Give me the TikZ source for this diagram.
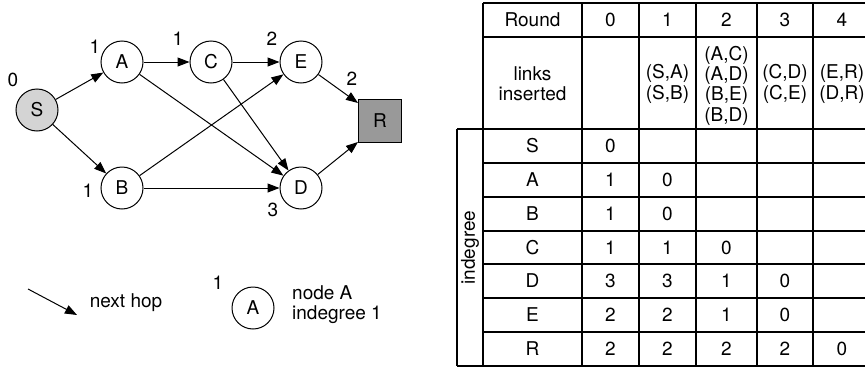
\documentclass[tikz,border=0pt]{standalone}
\usepackage{fontspec}
\setmainfont{TeX Gyre Heros}
\usetikzlibrary{arrows.meta}
\begin{document}
\begin{tikzpicture}[x=1pt,y=-1pt,
  font=\fontsize{19}{20.3}\selectfont,
  vtx/.style={circle,draw,line width=1pt,minimum size=42pt,inner sep=0pt},
  lbl/.style={inner sep=0pt},
  hop/.style={-{Triangle[length=12pt,width=9pt]},line width=1pt},
  gridline/.style={line width=1.1pt},
  cell/.style={inner sep=0pt,align=center}]
\useasboundingbox (0,0) rectangle (865,367);
% graph
\node[vtx,fill=black!17] (S) at (37,110) {S};
\node[vtx] (A) at (122,62) {A};
\node[vtx] (C) at (211,62) {C};
\node[vtx] (E) at (301,62) {E};
\node[vtx] (B) at (122,188) {B};
\node[vtx] (D) at (301,188) {D};
\node[draw,line width=1pt,fill=black!40,minimum size=43pt,inner sep=0pt] (R) at (380,121) {R};
\draw[hop] (S) -- (A);
\draw[hop] (S) -- (B);
\draw[hop] (A) -- (C);
\draw[hop] (A) -- (D);
\draw[hop] (C) -- (E);
\draw[hop] (C) -- (D);
\draw[hop] (B) -- (E);
\draw[hop] (B) -- (D);
\draw[hop] (E) -- ([yshift=-4pt]R.north west);
\draw[hop] (D) -- ([yshift=1pt]R.south west);
\node[lbl] (lS) at (13,80) {0};
\node[lbl] (lA) at (95,47) {1};
\node[lbl] (lC) at (178,39) {1};
\node[lbl] (lE) at (272,39) {2};
\node[lbl] (lR) at (352,79) {2};
\node[lbl] (lB) at (88,191) {1};
\node[lbl] (lD) at (273,210) {3};
% legend
\coordinate (h1) at (28,289);
\coordinate (h2) at (77,315);
\draw[hop] (h1) -- (h2);
\node[lbl] (nh) at (126,303) {next hop};
\node[lbl] (l1) at (218,283) {1};
\node[vtx] (LA) at (253,308) {A};
\node[lbl,align=left,anchor=west] (nA) at (292,304.5) {node A\\indegree 1};
% table lines
\foreach \y in {3,37,163,197,231,264,298,332}
  \draw[gridline] (483,\y) -- (865,\y);
\foreach \y in {129,366}
  \draw[gridline] (457,\y) -- (865,\y);
\draw[gridline] (457,129) -- (457,366);
\foreach \x in {483,582,639,696,757,813}
  \draw[gridline] (\x,3) -- (\x,366);
% table text
\node[cell] (hR) at (532.5,20) {Round};
\node[cell] (h0) at (610.5,20) {0};
\node[cell] (h1t) at (667.5,20) {1};
\node[cell] (h2t) at (726.5,20) {2};
\node[cell] (h3t) at (785,20) {3};
\node[cell] (h4t) at (842,20) {4};
\node[cell] (li) at (532.5,84) {links\\inserted};
\node[cell] (k1) at (667.5,84) {(S,A)\\(S,B)};
\node[cell] (k2) at (726.5,85.5) {(A,C)\\(A,D)\\(B,E)\\(B,D)};
\node[cell] (k3) at (785,84) {(C,D)\\(C,E)};
\node[cell] (k4) at (842,84) {(E,R)\\(D,R)};
\node[cell,rotate=90] (ind) at (470,247.5) {indegree};
\foreach \n/\y/\vals in {S/146/{0},A/180/{1,0},B/214/{1,0},C/247.5/{1,1,0},D/281/{3,3,1,0},E/315/{2,2,1,0},R/349/{2,2,2,2,0}}{
  \node[cell] (r\n) at (532.5,\y) {\n};
  \foreach \v [count=\i] in \vals {
    \ifcase\i\or\def\cx{610.5}\or\def\cx{667.5}\or\def\cx{726.5}\or\def\cx{785}\or\def\cx{842}\fi
    \node[cell] (c\n\i) at (\cx,\y) {\v};
  }
}
\end{tikzpicture}
\end{document}
